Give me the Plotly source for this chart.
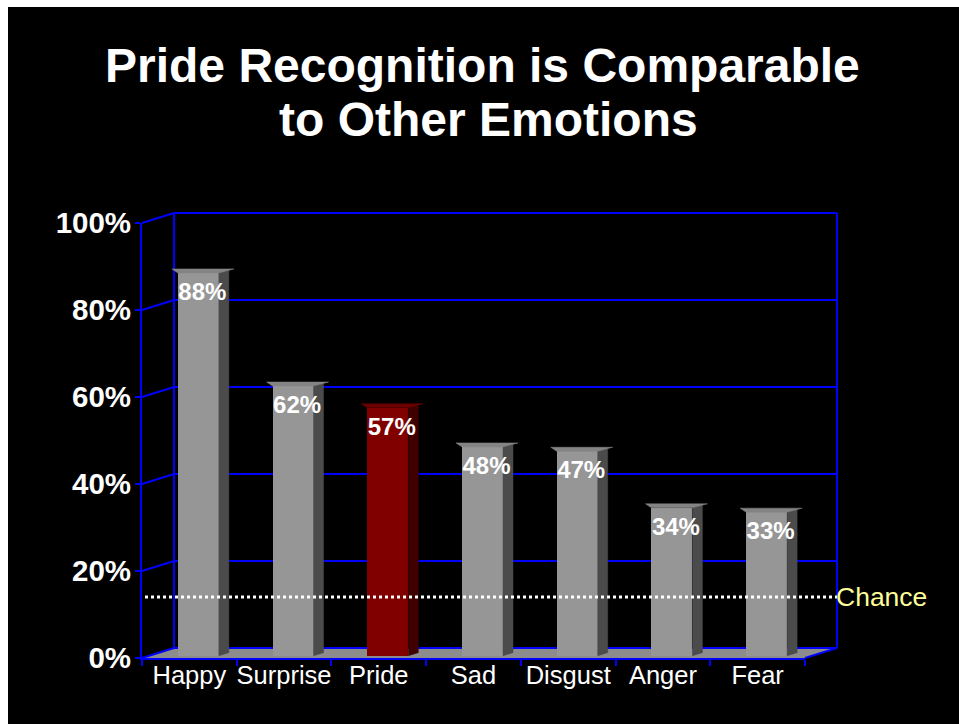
import plotly.graph_objects as go

# ---------------- data ----------------
categories = ["Happy", "Surprise", "Pride", "Sad", "Disgust", "Anger", "Fear"]
values = [88, 62, 57, 48, 47, 34, 33]
value_labels = ["88%", "62%", "57%", "48%", "47%", "34%", "33%"]
highlight = "Pride"
chance = 14
chance_label = "Chance"
y_ticks = [0, 20, 40, 60, 80, 100]
y_tick_labels = ["0%", "20%", "40%", "60%", "80%", "100%"]
title_lines = ["Pride Recognition is Comparable", "to Other Emotions"]

# ---------------- layout geometry (pixel positions as seen on screen) ----------------
W, H = 959, 724
ML, MR, MT, MB = 142, 154, 223, 66
PW = W - ML - MR
PH = H - MT - MB
n = len(categories)
ppx = PW / n          # px per category unit
ppy = PH / 100.0      # px per percent
DX, DY = 32, 10       # depth of the 3D box in px
BAR_SX, BAR_SY = 9, 2.3   # bar plane offset in px
BAR_W = 41 / ppx
SIDE = 10
FONT = "Liberation Sans, Arial, sans-serif"
BLUE = "#0000ff"

def px2paper_x(p):
    return (p - ML) / PW

def px2paper_y(p):
    return (H - MB - p) / PH

dxp, dyp = DX / PW, DY / PH
ux, uy = 1 / ppx, 1 / ppy
sx, sy = BAR_SX * ux, BAR_SY * uy

fig = go.Figure()

front_cols = ["#800000" if c == highlight else "#969696" for c in categories]
side_cols = ["#3f0000" if c == highlight else "#4b4b4b" for c in categories]
top_cols = ["#6a0000" if c == highlight else "#848484" for c in categories]
idx = list(range(n))

fig.add_trace(go.Bar(x=idx, y=values, base=sy, width=BAR_W, offset=-BAR_W / 2 + sx,
                     marker=dict(color=front_cols, line=dict(width=0)),
                     hoverinfo="skip", showlegend=False))

for i, v in enumerate(values):
    xl, xr = i - BAR_W / 2 + sx, i + BAR_W / 2 + sx
    top = v + sy
    fig.add_trace(go.Scatter(
        x=[xr, xr, xr + SIDE * ux, xr + SIDE * ux, xr],
        y=[sy, top, top + 3 * uy, sy + 3 * uy, sy],
        fill="toself", fillcolor=side_cols[i], mode="lines",
        line=dict(color=side_cols[i], width=0.5),
        hoverinfo="skip", showlegend=False))
    fig.add_trace(go.Scatter(
        x=[xl, xr, xr + 15 * ux, xl - 6 * ux, xl],
        y=[top, top, top + 4 * uy, top + 4 * uy, top],
        fill="toself", fillcolor=top_cols[i], mode="lines",
        line=dict(color=top_cols[i], width=0.5),
        hoverinfo="skip", showlegend=False))

fig.add_trace(go.Scatter(
    x=[i + sx + 4 * ux for i in idx], y=[v + sy - 21 * uy for v in values],
    mode="text", text=value_labels, textposition="middle center",
    textfont=dict(family=FONT, size=24, color="white", weight="bold"),
    hoverinfo="skip", showlegend=False, cliponaxis=False))

shapes = []
# black slide area (white strip on top and left)
shapes.append(dict(type="rect", xref="paper", yref="paper", layer="below",
                   x0=px2paper_x(8), x1=px2paper_x(W + 20), y0=px2paper_y(H + 20), y1=px2paper_y(7),
                   fillcolor="black", line=dict(width=0)))
shapes.append(dict(type="path", xref="paper", yref="paper", layer="below",
                   path=f"M 0 0 L 1 0 L {1+dxp} {dyp} L {dxp} {dyp} Z",
                   fillcolor="#8c8c8c", line=dict(width=0)))
for t in y_ticks:
    yv = t / 100
    shapes.append(dict(type="path", xref="paper", yref="paper", layer="below",
                       path=f"M 0 {yv} L {dxp} {yv+dyp} L {1+dxp} {yv+dyp}",
                       line=dict(color=BLUE, width=2)))
for xv in (dxp, 1 + dxp):
    shapes.append(dict(type="line", xref="paper", yref="paper", layer="below",
                       x0=xv, x1=xv, y0=dyp, y1=1 + dyp, line=dict(color=BLUE, width=2)))
shapes.append(dict(type="line", xref="paper", yref="paper", layer="below",
                   x0=1, x1=1 + dxp, y0=0, y1=dyp, line=dict(color=BLUE, width=2)))
shapes.append(dict(type="line", xref="paper", yref="paper", layer="above",
                   x0=px2paper_x(145), x1=1 + dxp, y0=chance / 100, y1=chance / 100,
                   line=dict(color="white", width=3, dash="3px,3px")))

annotations = [
    dict(text=chance_label, xref="paper", yref="paper", x=1 + dxp, y=chance / 100,
         xanchor="left", yanchor="middle", showarrow=False, xshift=-3,
         font=dict(family=FONT, size=26.5, color="#ffff99")),
    dict(text=f"<b>{title_lines[0]}</b>", xref="paper", yref="paper",
         x=px2paper_x(483), y=px2paper_y(65), xanchor="center", yanchor="middle",
         showarrow=False, font=dict(family=FONT, size=48, color="white")),
    dict(text=f"<b>{title_lines[1]}</b>", xref="paper", yref="paper",
         x=px2paper_x(488), y=px2paper_y(119.5), xanchor="center", yanchor="middle",
         showarrow=False, font=dict(family=FONT, size=48, color="white")),
]

fig.update_layout(
    width=W, height=H, autosize=False,
    margin=dict(l=ML, r=MR, t=MT, b=MB, pad=0),
    paper_bgcolor="white", plot_bgcolor="rgba(0,0,0,0)",
    shapes=shapes, annotations=annotations, showlegend=False,
    xaxis=dict(range=[-0.5, n - 0.5], tickmode="array", tickvals=idx, ticktext=categories,
               ticks="", showgrid=False, zeroline=False, ticklabelstandoff=-7,
               showline=True, linecolor=BLUE, linewidth=2,
               tickfont=dict(family=FONT, size=25.5, color="white"),
               minor=dict(tickmode="linear", tick0=-0.5, dtick=1,
                          ticks="outside", ticklen=6, tickwidth=2, tickcolor=BLUE, showgrid=False),
               fixedrange=True),
    yaxis=dict(range=[0, 100], tickmode="array", tickvals=y_ticks,
               ticktext=[f"<b>{s}</b>" for s in y_tick_labels],
               ticks="outside", ticklen=5, tickwidth=2, tickcolor=BLUE,
               showgrid=False, zeroline=False, ticklabelstandoff=-2,
               showline=True, linecolor=BLUE, linewidth=2,
               tickfont=dict(family=FONT, size=29.5, color="white"), fixedrange=True),
    bargap=0,
)

fig.write_html(
    "out.html",
    config={"displayModeBar": False},
    post_script="document.body.style.margin='0';document.documentElement.style.overflow='hidden';",
)
